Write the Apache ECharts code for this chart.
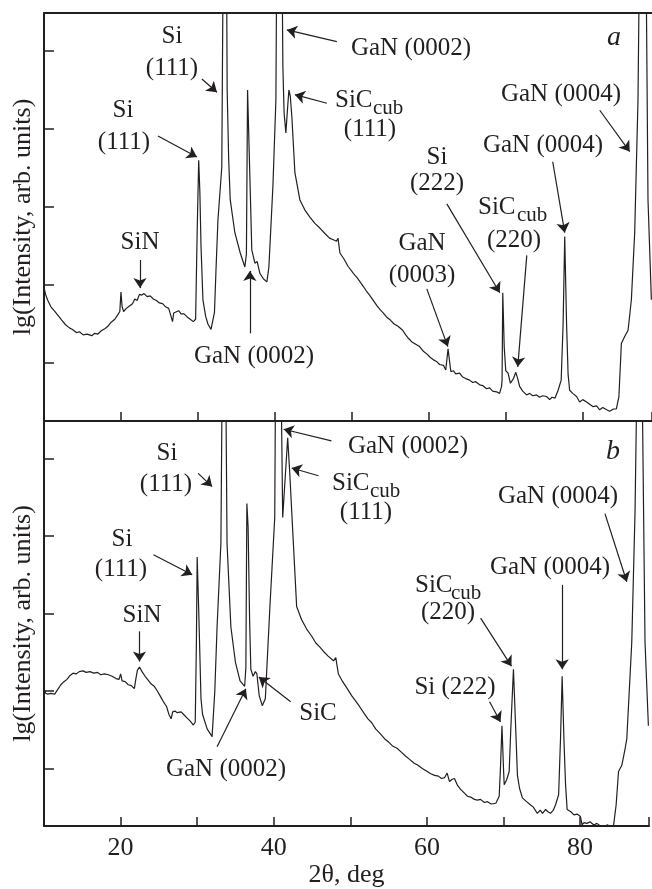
<!DOCTYPE html>
<html>
<head>
<meta charset="utf-8">
<script src="https://cdn.jsdelivr.net/npm/echarts@6/dist/echarts.min.js"></script>
<style>
  html, body { margin: 0; padding: 0; background: #fff; }
  #xrd { width: 652px; height: 889px; }
</style>
</head>
<body>
<div id="xrd"></div>
<script>
// scan a: 2theta (deg) / lg intensity (one unit per y tick); 6.5 = peak runs off the top
var topX = [10.0, 10.2, 10.5, 10.9, 11.4, 11.9, 12.3, 12.8, 13.3, 13.7, 14.2, 14.6, 15.1, 15.6, 16.2, 16.6, 17.0, 17.4, 17.9, 18.3, 18.7, 19.2, 19.6, 19.85, 20.0, 20.15, 20.35, 20.7, 21.1, 21.5, 21.8, 22.1, 22.4, 22.7, 23.0, 23.4, 23.8, 24.2, 24.6, 25.0, 25.4, 25.8, 26.2, 26.5, 26.7, 26.85, 27.1, 27.5, 27.8, 28.2, 28.6, 29.0, 29.4, 29.7, 29.9, 30.1, 30.25, 30.4, 30.65, 31.0, 31.3, 31.7, 31.95, 32.15, 32.35, 32.6, 33.1, 33.3, 33.7, 33.8, 34.0, 34.2, 34.8, 35.5, 36.1, 36.3, 36.45, 36.6, 36.8, 37.0, 37.4, 37.7, 38.05, 38.5, 38.96, 39.22, 39.74, 40.13, 40.26, 40.9, 41.04, 41.2, 41.43, 41.6, 41.82, 42.0, 42.21, 42.6, 43.25, 43.9, 44.55, 45.2, 45.84, 46.5, 47.1, 47.6, 48.0, 48.2, 48.45, 49.0, 49.5, 50.2, 50.7, 51.0, 51.5, 51.9, 52.3, 52.8, 53.3, 53.7, 54.1, 54.5, 55.0, 55.5, 56.0, 56.6, 57.0, 57.4, 57.8, 58.3, 58.8, 59.3, 59.8, 60.2, 60.6, 61.0, 61.4, 61.9, 62.2, 62.5, 62.86, 63.2, 63.5, 64.0, 64.4, 64.8, 65.3, 65.7, 66.1, 66.6, 67.0, 67.5, 67.9, 68.3, 68.8, 69.2, 69.45, 69.52, 69.61, 69.8, 70.0, 70.3, 70.6, 71.0, 71.3, 71.55, 71.8, 72.2, 72.7, 73.1, 73.5, 74.0, 74.4, 74.8, 75.3, 75.7, 76.0, 76.4, 76.8, 77.2, 77.45, 77.66, 77.9, 78.1, 78.3, 78.7, 79.2, 79.6, 80.0, 80.5, 80.9, 81.35, 81.8, 82.2, 82.6, 83.1, 83.5, 84.0, 84.37, 84.7, 85.02, 85.45, 85.89, 86.32, 86.75, 87.18, 87.4, 88.2, 88.48, 88.92]
var topY = [1.97, 1.88, 1.80, 1.72, 1.66, 1.60, 1.55, 1.49, 1.45, 1.43, 1.39, 1.40, 1.36, 1.37, 1.35, 1.38, 1.37, 1.41, 1.44, 1.47, 1.52, 1.56, 1.62, 1.66, 1.91, 1.72, 1.66, 1.70, 1.73, 1.76, 1.82, 1.80, 1.88, 1.87, 1.89, 1.85, 1.86, 1.82, 1.80, 1.77, 1.76, 1.72, 1.70, 1.60, 1.53, 1.64, 1.66, 1.67, 1.63, 1.63, 1.59, 1.56, 1.53, 1.56, 2.67, 3.60, 3.20, 2.50, 1.81, 1.60, 1.50, 1.43, 1.41, 1.65, 2.20, 2.83, 3.51, 6.5, 6.5, 4.5, 3.6, 3.09, 2.67, 2.41, 2.23, 2.40, 4.50, 4.50, 3.2, 2.45, 2.28, 2.30, 2.15, 2.08, 2.04, 2.23, 3.26, 4.37, 6.5, 6.5, 4.79, 4.20, 3.95, 4.20, 4.50, 4.42, 4.15, 3.44, 3.09, 2.96, 2.87, 2.79, 2.73, 2.66, 2.60, 2.58, 2.56, 2.60, 2.41, 2.33, 2.24, 2.15, 2.09, 2.05, 1.98, 1.92, 1.87, 1.80, 1.73, 1.68, 1.64, 1.59, 1.55, 1.50, 1.47, 1.42, 1.36, 1.31, 1.27, 1.24, 1.21, 1.15, 1.11, 1.07, 1.04, 1.02, 0.98, 0.97, 0.91, 1.18, 0.89, 0.90, 0.86, 0.87, 0.82, 0.80, 0.78, 0.75, 0.76, 0.72, 0.71, 0.67, 0.68, 0.64, 0.63, 0.61, 0.70, 0.78, 1.90, 1.20, 0.90, 0.87, 0.74, 0.80, 0.88, 0.80, 0.70, 0.64, 0.59, 0.61, 0.58, 0.59, 0.56, 0.58, 0.57, 0.53, 0.56, 0.55, 0.65, 0.78, 1.50, 2.62, 1.50, 0.85, 0.65, 0.61, 0.57, 0.50, 0.53, 0.50, 0.47, 0.44, 0.45, 0.40, 0.43, 0.40, 0.38, 0.41, 0.41, 0.57, 1.25, 1.34, 1.42, 1.81, 2.67, 4.37, 6.5, 6.5, 3.09, 1.81]

// scan b
var botX = [10.0, 10.2, 10.5, 10.9, 11.4, 11.8, 12.2, 12.6, 13.0, 13.4, 13.8, 14.2, 14.6, 15.1, 15.5, 16.0, 16.5, 17.0, 17.4, 17.9, 18.4, 18.9, 19.4, 19.8, 20.0, 20.2, 20.6, 21.0, 21.4, 21.8, 22.0, 22.2, 22.47, 22.8, 23.2, 23.6, 24.0, 24.4, 24.8, 25.2, 25.6, 26.0, 26.3, 26.6, 26.8, 27.1, 27.4, 27.9, 28.3, 28.7, 29.1, 29.5, 29.75, 29.9, 30.0, 30.2, 30.5, 30.7, 31.3, 31.95, 32.3, 32.6, 33.1, 33.3, 33.7, 33.9, 34.4, 35.0, 35.6, 36.2, 36.36, 36.49, 36.65, 36.85, 37.01, 37.3, 37.6, 37.8, 38.1, 38.5, 38.9, 39.5, 40.13, 40.26, 40.9, 41.17, 41.82, 42.1, 42.34, 42.99, 43.64, 44.3, 44.94, 45.5, 46.0, 46.5, 47.1, 47.8, 48.1, 48.44, 49.0, 49.6, 50.17, 50.7, 51.2, 51.8, 52.3, 52.8, 53.3, 53.9, 54.5, 55.0, 55.5, 56.1, 56.66, 57.2, 57.7, 58.3, 58.83, 59.4, 59.9, 60.5, 61.0, 61.5, 61.9, 62.3, 62.64, 62.95, 63.3, 63.6, 64.0, 64.4, 64.9, 65.3, 65.7, 66.2, 66.6, 67.0, 67.5, 67.9, 68.4, 69.0, 69.44, 69.6, 69.8, 70.0, 70.09, 70.4, 70.74, 70.95, 71.3, 71.6, 71.82, 72.1, 72.47, 72.9, 73.5, 73.9, 74.4, 74.8, 75.1, 75.5, 75.8, 76.14, 76.5, 76.8, 77.2, 77.45, 77.66, 77.9, 78.1, 78.31, 78.8, 79.2, 79.6, 80.04, 80.26, 80.5, 80.9, 81.3, 81.8, 82.2, 82.6, 83.1, 83.6, 84.0, 84.37, 84.71, 85.02, 85.45, 85.89, 86.1, 86.75, 87.18, 87.49, 88.05, 88.48, 88.92]
var botY = [2.03, 1.97, 1.96, 1.97, 1.96, 2.02, 2.08, 2.12, 2.15, 2.20, 2.23, 2.22, 2.25, 2.26, 2.24, 2.25, 2.23, 2.24, 2.21, 2.22, 2.21, 2.19, 2.16, 2.15, 2.22, 2.13, 2.12, 2.08, 2.07, 2.03, 2.16, 2.27, 2.31, 2.25, 2.19, 2.14, 2.09, 2.06, 2.00, 1.93, 1.86, 1.80, 1.70, 1.64, 1.73, 1.74, 1.72, 1.73, 1.69, 1.65, 1.61, 1.56, 1.60, 2.63, 3.73, 3.05, 1.90, 1.70, 1.51, 1.41, 1.99, 2.83, 3.91, 6.5, 6.5, 3.91, 2.83, 2.37, 2.13, 2.06, 2.30, 4.42, 4.12, 2.9, 2.28, 2.19, 2.25, 2.22, 1.94, 1.81, 1.90, 3.09, 4.24, 6.5, 6.5, 4.24, 5.27, 4.8, 4.33, 3.09, 2.92, 2.80, 2.71, 2.62, 2.57, 2.51, 2.45, 2.39, 2.43, 2.22, 2.12, 2.03, 1.94, 1.87, 1.80, 1.71, 1.64, 1.59, 1.51, 1.45, 1.38, 1.34, 1.29, 1.26, 1.21, 1.16, 1.12, 1.07, 1.04, 1.00, 0.97, 0.93, 0.91, 0.90, 0.87, 0.88, 0.94, 0.83, 0.86, 0.87, 0.78, 0.73, 0.68, 0.64, 0.63, 0.60, 0.59, 0.60, 0.56, 0.57, 0.54, 0.55, 0.64, 1.00, 1.55, 1.00, 0.79, 0.85, 0.96, 1.50, 2.28, 1.50, 0.91, 0.74, 0.62, 0.58, 0.53, 0.50, 0.42, 0.46, 0.42, 0.47, 0.44, 0.42, 0.46, 0.53, 0.66, 1.40, 2.19, 1.35, 0.80, 0.47, 0.44, 0.40, 0.41, 0.38, 0.27, 0.30, 0.29, 0.31, 0.27, 0.29, 0.26, 0.25, 0.27, 0.25, 0.26, 0.53, 0.96, 1.04, 1.26, 1.38, 2.63, 4.33, 6.5, 6.5, 2.63, 1.55]

var yTicks = [1, 2, 3, 4, 5]
var xTickLabels = [20, 40, 60, 80]

// arrows [x from, y from, x to, y to] in data units
var topArrows = [
  [24.81, 3.91, 29.87, 3.64],
  [30.52, 4.64, 32.47, 4.47],
  [22.47, 2.32, 22.47, 1.96],
  [36.75, 1.38, 36.75, 2.18],
  [48.05, 5.12, 41.56, 5.27],
  [46.75, 4.33, 42.6, 4.44],
  [62.34, 3.04, 69.22, 1.9],
  [59.74, 1.95, 62.47, 1.21],
  [72.73, 2.38, 71.56, 0.95],
  [76.1, 3.58, 77.66, 2.67],
  [82.21, 4.24, 86.1, 3.71]
]
var botArrows = [
  [30.13, 4.81, 31.95, 4.64],
  [24.29, 3.76, 29.35, 3.5],
  [22.47, 2.77, 22.47, 2.38],
  [32.6, 1.28, 36.36, 2.03],
  [42.21, 1.86, 38.05, 2.18],
  [47.53, 5.23, 41.3, 5.38],
  [45.84, 4.78, 42.34, 4.88],
  [83.25, 4.29, 86.1, 3.41],
  [77.66, 3.37, 77.66, 2.28],
  [67.01, 2.94, 71.04, 2.32],
  [68.18, 1.86, 69.61, 1.6]
]

var ink = '#231f20'
var serif = '"Liberation Serif", "Times New Roman", serif'

function zip(xs, ys) {
  return xs.map(function (x, i) { return [x, ys[i]] })
}

function label(t, x, y, opt) {
  opt = opt || {}
  return {
    type: 'text',
    x: x,
    y: y,
    silent: true,
    style: {
      text: t,
      fill: ink,
      font: (opt.italic ? 'italic ' : '') + (opt.size || 25) + 'px ' + serif,
      align: opt.align || 'center',
      verticalAlign: 'middle'
    }
  }
}

var labels = [
  // a
  label('Si', 123, 110), label('(111)', 124, 142),
  label('Si', 172, 36), label('(111)', 172, 68),
  label('SiN', 140, 242),
  label('GaN (0002)', 254, 356),
  label('GaN (0002)', 411, 48),
  label('SiC', 335, 100, { align: 'left' }), label('cub', 373, 108, { align: 'left', size: 21 }),
  label('(111)', 370, 129),
  label('Si', 437, 157), label('(222)', 437, 183),
  label('GaN', 422, 243), label('(0003)', 422, 275),
  label('SiC', 478, 207, { align: 'left' }), label('cub', 517, 215, { align: 'left', size: 21 }),
  label('(220)', 514, 240),
  label('GaN (0004)', 543, 145),
  label('GaN (0004)', 561, 94),
  label('a', 614, 38, { italic: true, size: 28 }),
  // b
  label('Si', 167, 453), label('(111)', 166, 484),
  label('Si', 122, 539), label('(111)', 121, 569),
  label('SiN', 142, 615),
  label('GaN (0002)', 226, 769),
  label('SiC', 318, 713),
  label('GaN (0002)', 408, 446),
  label('SiC', 332, 483, { align: 'left' }), label('cub', 370, 491, { align: 'left', size: 21 }),
  label('(111)', 366, 512),
  label('GaN (0004)', 558, 496),
  label('GaN (0004)', 550, 567),
  label('SiC', 415, 585, { align: 'left' }), label('cub', 451, 593, { align: 'left', size: 21 }),
  label('(220)', 448, 612),
  label('Si (222)', 455, 687),
  label('b', 613, 452, { italic: true, size: 28 })
]

function xAxisFor(grid, extra) {
  return Object.assign({
    gridIndex: grid,
    type: 'value',
    min: 10,
    max: 89,
    interval: 10,
    axisLine: { show: true, onZero: false, lineStyle: { color: ink, width: 2 } },
    axisTick: { show: true, inside: true, length: 9, lineStyle: { color: ink, width: 1.5 } },
    axisLabel: { show: false },
    splitLine: { show: false }
  }, extra)
}

function yAxisFor(grid) {
  return {
    gridIndex: grid,
    type: 'value',
    min: 0.256,
    max: 5.487,
    axisLine: { show: true, onZero: false, lineStyle: { color: ink, width: 2 } },
    axisTick: { show: true, inside: true, length: 10, customValues: yTicks, lineStyle: { color: ink, width: 1.5 } },
    axisLabel: { show: false },
    splitLine: { show: false },
    name: 'lg(Intensity, arb. units)',
    nameLocation: 'middle',
    nameGap: 8,
    nameTextStyle: { fontFamily: serif, fontSize: 26, color: ink }
  }
}

function scan(axis, xs, ys, arrows) {
  return {
    type: 'line',
    xAxisIndex: axis,
    yAxisIndex: axis === 0 ? 0 : 1,
    data: zip(xs, ys),
    symbol: 'none',
    clip: true,
    silent: true,
    lineStyle: { color: ink, width: 1.2 },
    markLine: {
      silent: true,
      symbol: ['none', 'arrow'],
      symbolSize: 10,
      label: { show: false },
      lineStyle: { color: ink, width: 1.2, type: 'solid' },
      data: arrows.map(function (a) {
        return [{ coord: [a[0], a[1]] }, { coord: [a[2], a[3]] }]
      })
    }
  }
}

var chart = echarts.init(document.getElementById('xrd'))
chart.setOption({
  animation: false,
  backgroundColor: '#fff',
  grid: [
    { left: 44, right: 0, top: 13, height: 408 },
    { left: 44, right: 0, top: 421, height: 408 }
  ],
  xAxis: [
    xAxisFor(0),
    xAxisFor(1, {
      axisLabel: {
        show: true,
        margin: 9,
        fontFamily: serif,
        fontSize: 26,
        color: ink,
        formatter: function (v) { return xTickLabels.indexOf(v) >= 0 ? String(v) : '' }
      },
      name: '2θ, deg',
      nameLocation: 'middle',
      nameGap: 36,
      nameTextStyle: { fontFamily: serif, fontSize: 26, color: ink }
    }),
    xAxisFor(0, { position: 'top', axisTick: { show: false } })
  ],
  yAxis: [yAxisFor(0), yAxisFor(1)],
  series: [
    scan(0, topX, topY, topArrows),
    scan(1, botX, botY, botArrows)
  ],
  graphic: labels
})
</script>
</body>
</html>
